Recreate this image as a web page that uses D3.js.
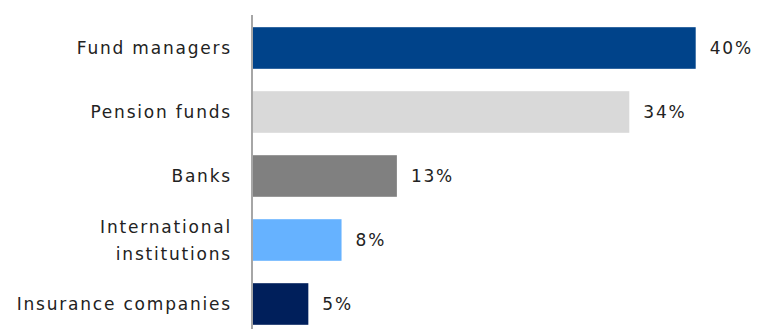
<!DOCTYPE html>
<html>
<head>
<meta charset="utf-8">
<script src="https://cdn.jsdelivr.net/npm/d3@7"></script>
<style>
  body { margin: 0; background: #fff; }
  text { font-family: "DejaVu Sans", sans-serif; fill: #222; }
</style>
</head>
<body>
<svg id="chart"></svg>
<script>
const categories = ["Fund managers", "Pension funds", "Banks", "International institutions", "Insurance companies"];
const labelLines = [["Fund managers"], ["Pension funds"], ["Banks"], ["International", "institutions"], ["Insurance companies"]];
const values = [40, 34, 13, 8, 5];
const barColors = ["#00438A", "#D9D9D9", "#808080", "#66B2FF", "#001F5B"];

const width = 758, height = 329;
const margin = { top: 16, left: 253 };

const svg = d3.select("#chart").attr("width", width).attr("height", height);

const x = d3.scaleLinear().domain([0, 40]).range([margin.left, margin.left + 442.7]);
const y = d3.scaleBand().domain(categories).range([16, 336]).paddingInner(0.35).paddingOuter(0.175);

svg.selectAll("rect.bar")
  .data(categories)
  .join("rect")
  .attr("class", "bar")
  .attr("x", x(0))
  .attr("y", d => y(d))
  .attr("width", (d, i) => x(values[i]) - x(0))
  .attr("height", y.bandwidth())
  .attr("fill", (d, i) => barColors[i]);

// axis line
svg.append("line")
  .attr("x1", x(0) - 1).attr("x2", x(0) - 1)
  .attr("y1", 15).attr("y2", height)
  .attr("stroke", "#A6A6A6")
  .attr("stroke-width", 2);

// category labels
const labelX = x(0) - 21;
const lbl = svg.selectAll("text.cat")
  .data(categories)
  .join("text")
  .attr("class", "cat")
  .attr("text-anchor", "end")
  .attr("font-size", 17)
  .attr("letter-spacing", 1.8)
  .attr("x", labelX)
  .attr("y", d => y(d) + y.bandwidth() / 2);

lbl.each(function(d, i) {
  const lines = labelLines[i];
  const lh = 27;
  d3.select(this).selectAll("tspan")
    .data(lines)
    .join("tspan")
    .attr("x", labelX)
    .attr("y", (l, j) => y(d) + y.bandwidth() / 2 + 6 + (j - (lines.length - 1) / 2) * lh)
    .text(l => l);
});

// value labels
svg.selectAll("text.val")
  .data(categories)
  .join("text")
  .attr("class", "val")
  .attr("font-size", 17)
  .attr("letter-spacing", 1.8)
  .attr("x", (d, i) => x(values[i]) + 14)
  .attr("y", d => y(d) + y.bandwidth() / 2 + 6)
  .text((d, i) => values[i] + "%");
</script>
</body>
</html>
